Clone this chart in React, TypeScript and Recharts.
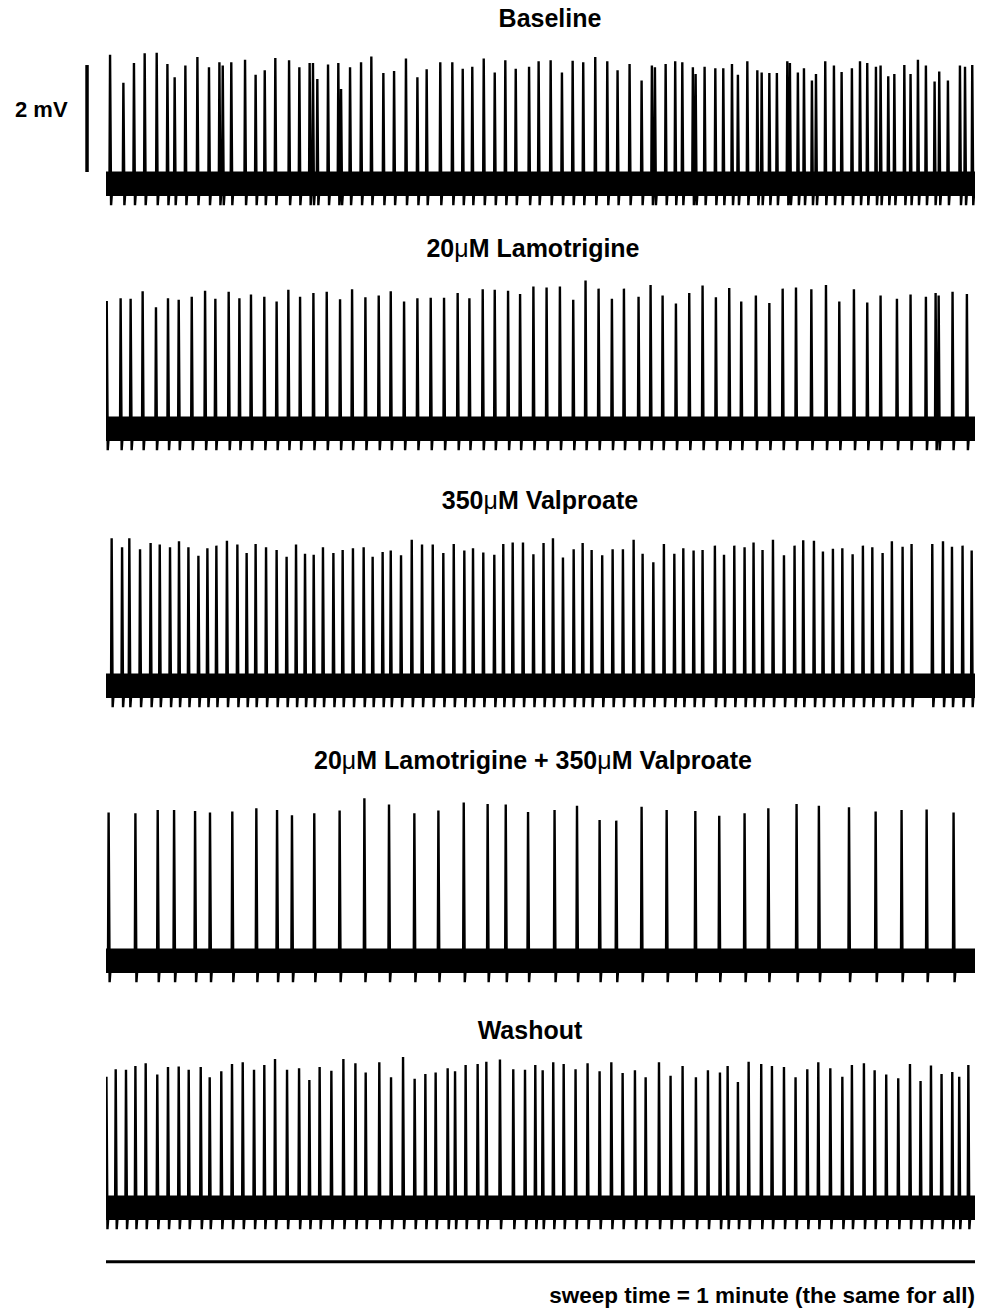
import React from 'react'
import { LineChart, Line, XAxis, YAxis, ReferenceArea, ReferenceLine } from 'recharts'

// spike trains: [time (s), peak amplitude (mV above resting baseline)]
const baselineSpikes: [number, number][] = [
  [0.28, 2.41], [1.2, 1.89], [1.93, 2.26], [2.67, 2.44], [3.5, 2.45], [4.24, 2.24], [4.74, 1.99], [5.48, 2.21],
  [6.31, 2.37], [7.11, 2.18], [7.83, 2.27], [8.06, 2.21], [8.65, 2.27], [9.6, 2.32], [10.33, 2.04], [10.96, 2.12],
  [11.69, 2.35], [12.64, 2.31], [13.35, 2.18], [14.06, 2.26], [14.29, 2.26], [14.59, 1.96], [15.33, 2.23],
  [16.04, 2.26], [16.23, 1.77], [16.85, 2.18], [17.61, 2.27], [18.32, 2.38], [19.15, 2.07], [19.89, 2.11],
  [20.71, 2.34], [21.5, 1.99], [22.14, 2.14], [23.08, 2.27], [23.91, 2.27], [24.63, 2.15], [25.29, 2.19],
  [26.08, 2.34], [26.84, 2.08], [27.57, 2.31], [28.29, 2.15], [29.21, 2.19], [29.87, 2.29], [30.7, 2.31],
  [31.48, 2.08], [32.22, 2.3], [32.95, 2.27], [33.78, 2.37], [34.61, 2.29], [35.32, 2.12], [36.15, 2.24],
  [36.98, 1.93], [37.69, 2.21], [37.9, 2.18], [38.64, 2.24], [39.3, 2.29], [39.79, 2.27], [40.52, 2.18],
  [40.71, 2.05], [41.33, 2.19], [42.07, 2.16], [42.62, 2.16], [43.22, 2.24], [43.63, 2.04], [44.28, 2.29],
  [44.97, 2.12], [45.27, 2.08], [45.8, 2.07], [46.32, 2.07], [47.04, 2.29], [47.22, 2.26], [47.77, 2.08],
  [48.19, 2.16], [48.74, 1.93], [49.02, 2.05], [49.66, 2.29], [50.26, 2.21], [50.79, 2.09], [51.5, 2.16],
  [52.06, 2.29], [52.56, 2.26], [53.16, 2.19], [53.48, 2.21], [54.01, 2.01], [54.43, 2.05], [55.12, 2.22],
  [55.55, 2.05], [56.06, 2.32], [56.61, 2.21], [57.21, 1.91], [57.53, 2.1], [58.13, 1.93], [58.96, 2.21],
  [59.31, 2.19], [59.81, 2.22],
]

const lamotrigineSpikes: [number, number][] = [
  [0.05, 2.39], [1.01, 2.44], [1.7, 2.43], [2.53, 2.57], [3.45, 2.27], [4.28, 2.44], [5.02, 2.41], [5.92, 2.47],
  [6.84, 2.58], [7.55, 2.43], [8.47, 2.56], [9.21, 2.44], [10.01, 2.51], [10.93, 2.47], [11.78, 2.38],
  [12.59, 2.6], [13.4, 2.47], [14.32, 2.54], [15.24, 2.56], [16.16, 2.42], [16.99, 2.61], [17.91, 2.46],
  [18.83, 2.49], [19.66, 2.57], [20.58, 2.38], [21.5, 2.44], [22.42, 2.45], [23.34, 2.45], [24.28, 2.54],
  [25.09, 2.44], [26.01, 2.61], [26.84, 2.6], [27.76, 2.58], [28.59, 2.52], [29.51, 2.66], [30.42, 2.64],
  [31.34, 2.66], [32.26, 2.41], [33.11, 2.77], [34.01, 2.62], [34.93, 2.43], [35.76, 2.62], [36.77, 2.47],
  [37.6, 2.69], [38.43, 2.49], [39.35, 2.34], [40.27, 2.54], [41.19, 2.68], [42.11, 2.46], [43.03, 2.63],
  [43.86, 2.38], [44.87, 2.49], [45.8, 2.35], [46.72, 2.62], [47.64, 2.64], [48.7, 2.61], [49.71, 2.69],
  [50.63, 2.38], [51.64, 2.61], [52.56, 2.36], [53.48, 2.49], [54.61, 2.43], [55.55, 2.51], [56.61, 2.47],
  [57.28, 2.54], [57.49, 2.49], [58.45, 2.56], [59.44, 2.52],
]

const valproateSpikes: [number, number][] = [
  [0.39, 2.76], [1.11, 2.59], [1.61, 2.76], [2.35, 2.55], [3.08, 2.67], [3.71, 2.64], [4.42, 2.59], [5.04, 2.7],
  [5.69, 2.59], [6.38, 2.43], [7.0, 2.57], [7.62, 2.62], [8.35, 2.71], [9.07, 2.64], [9.71, 2.48], [10.33, 2.65],
  [11.05, 2.59], [11.78, 2.54], [12.47, 2.41], [13.12, 2.64], [13.74, 2.47], [14.34, 2.45], [14.98, 2.59],
  [15.7, 2.48], [16.34, 2.54], [17.05, 2.57], [17.79, 2.59], [18.41, 2.41], [19.1, 2.5], [19.66, 2.53],
  [20.37, 2.44], [21.11, 2.73], [21.82, 2.64], [22.56, 2.64], [23.29, 2.48], [24.01, 2.65], [24.74, 2.53],
  [25.34, 2.57], [26.05, 2.49], [26.81, 2.45], [27.43, 2.65], [28.08, 2.68], [28.79, 2.68], [29.51, 2.46],
  [30.21, 2.67], [30.86, 2.76], [31.55, 2.4], [32.29, 2.55], [32.91, 2.67], [33.53, 2.54], [34.26, 2.44],
  [34.98, 2.55], [35.69, 2.55], [36.43, 2.73], [37.05, 2.47], [37.79, 2.31], [38.52, 2.65], [39.24, 2.47],
  [39.86, 2.57], [40.57, 2.53], [41.19, 2.54], [42.04, 2.62], [42.67, 2.45], [43.38, 2.62], [44.09, 2.59],
  [44.71, 2.68], [45.33, 2.54], [46.05, 2.73], [46.81, 2.44], [47.54, 2.62], [48.14, 2.72], [48.88, 2.71],
  [49.5, 2.51], [50.19, 2.56], [50.84, 2.57], [51.55, 2.46], [52.26, 2.62], [52.91, 2.59], [53.62, 2.48],
  [54.26, 2.7], [55.0, 2.6], [55.62, 2.65], [57.05, 2.65], [57.79, 2.7], [58.41, 2.6], [59.14, 2.62],
  [59.77, 2.53],
]

const comboSpikes: [number, number][] = [
  [0.18, 2.77], [2.03, 2.76], [3.57, 2.82], [4.7, 2.82], [6.15, 2.8], [7.18, 2.77], [8.72, 2.79], [10.38, 2.85],
  [11.81, 2.82], [12.84, 2.72], [14.38, 2.76], [16.13, 2.81], [17.84, 3.04], [19.54, 2.92], [21.29, 2.76],
  [22.95, 2.81], [24.7, 2.96], [26.35, 2.93], [27.6, 2.92], [29.14, 2.78], [30.97, 2.82], [32.52, 2.9],
  [34.08, 2.63], [35.23, 2.62], [36.98, 2.88], [38.71, 2.82], [40.69, 2.8], [42.34, 2.71], [44.09, 2.76],
  [45.73, 2.85], [47.68, 2.93], [49.22, 2.9], [51.3, 2.87], [53.14, 2.79], [54.93, 2.82], [56.66, 2.83],
  [58.52, 2.77],
]

const washoutSpikes: [number, number][] = [
  [0.03, 2.45], [0.67, 2.59], [1.38, 2.58], [2.03, 2.65], [2.74, 2.7], [3.54, 2.49], [4.28, 2.63], [5.02, 2.64],
  [5.71, 2.58], [6.54, 2.63], [7.16, 2.44], [7.96, 2.55], [8.7, 2.69], [9.44, 2.72], [10.22, 2.58], [10.93, 2.67],
  [11.67, 2.78], [12.5, 2.58], [13.33, 2.61], [14.04, 2.39], [14.75, 2.63], [15.56, 2.56], [16.39, 2.78],
  [17.22, 2.7], [17.93, 2.53], [18.87, 2.72], [19.68, 2.44], [20.51, 2.82], [21.31, 2.41], [22.05, 2.5],
  [22.76, 2.53], [23.59, 2.61], [24.1, 2.55], [24.83, 2.67], [25.66, 2.69], [26.26, 2.73], [27.2, 2.77],
  [28.12, 2.59], [28.93, 2.58], [29.64, 2.67], [30.15, 2.57], [30.88, 2.72], [31.6, 2.69], [32.42, 2.59],
  [33.25, 2.7], [34.08, 2.55], [34.89, 2.72], [35.67, 2.52], [36.52, 2.57], [37.26, 2.44], [38.18, 2.72],
  [38.98, 2.47], [39.81, 2.65], [40.73, 2.44], [41.56, 2.57], [42.39, 2.53], [42.92, 2.65], [43.63, 2.35],
  [44.37, 2.73], [45.24, 2.69], [45.98, 2.65], [46.81, 2.63], [47.61, 2.44], [48.42, 2.59], [49.18, 2.72],
  [50.01, 2.61], [50.84, 2.45], [51.5, 2.67], [52.33, 2.7], [53.07, 2.57], [53.87, 2.49], [54.7, 2.42],
  [55.51, 2.69], [56.24, 2.37], [56.96, 2.66], [57.69, 2.5], [58.43, 2.54], [58.91, 2.45], [59.54, 2.67],
]

// panel headings, baseline position on the page (px) and heading centre x
const TRACES = [
  { title: ['Baseline'], spikes: baselineSpikes, baseY: 184, titleY: 18, titleX: 550 },
  { title: ['20', 'μ', 'M Lamotrigine'], spikes: lamotrigineSpikes, baseY: 429, titleY: 248, titleX: 533 },
  { title: ['350', 'μ', 'M Valproate'], spikes: valproateSpikes, baseY: 686, titleY: 500, titleX: 540 },
  { title: ['20', 'μ', 'M Lamotrigine + 350', 'μ', 'M Valproate'], spikes: comboSpikes, baseY: 961, titleY: 760, titleX: 533 },
  { title: ['Washout'], spikes: washoutSpikes, baseY: 1208, titleY: 1030, titleX: 530 },
]

const SWEEP_S = 60
const NOISE_MV = 0.23 // half-width of the baseline noise band
const UNDERSHOOT_MV = 0.4

const FONT = "'Liberation Sans', Arial, Helvetica, sans-serif"
const CHART_W = 984
const CHART_H = 240
const Y_MIN = -1.2
const Y_MAX = 3.286 // 240 px / 4.486 mV ≈ 53.5 px per mV
const ZERO_OFFSET = (Y_MAX / (Y_MAX - Y_MIN)) * CHART_H

function buildTrace(spikes: [number, number][]) {
  const rows: { t: number; v: number }[] = [{ t: 0, v: 0 }]
  spikes.forEach(([t, a]) => {
    rows.push({ t: t - 0.04, v: 0 }, { t, v: a }, { t: t + 0.07, v: -UNDERSHOOT_MV }, { t: t + 0.17, v: 0 })
  })
  rows.push({ t: SWEEP_S, v: 0 })
  return rows
}

function Title({ parts, x, y }: { parts: string[]; x: number; y: number }) {
  return (
    <div
      style={{
        position: 'absolute',
        left: x - 300,
        top: y - 12.5,
        width: 600,
        textAlign: 'center',
        fontFamily: FONT,
        fontWeight: 700,
        fontSize: 25,
        lineHeight: '25px',
      }}
    >
      {parts.map((p, i) =>
        p === 'μ' ? (
          <span key={i} style={{ fontWeight: 400 }}>
            {p}
          </span>
        ) : (
          <span key={i}>{p}</span>
        )
      )}
    </div>
  )
}

export default function App() {
  return (
    <div
      style={{
        position: 'absolute',
        left: 0,
        top: 0,
        width: 984,
        height: 1312,
        background: '#fff',
        overflow: 'hidden',
      }}
    >
      {TRACES.map((tr, idx) => (
        <React.Fragment key={idx}>
          <Title parts={tr.title} x={tr.titleX} y={tr.titleY} />
          <div style={{ position: 'absolute', left: 0, top: tr.baseY - ZERO_OFFSET }}>
            <LineChart
              width={CHART_W}
              height={CHART_H}
              data={buildTrace(tr.spikes)}
              margin={{ top: 0, right: 9, bottom: 0, left: 106 }}
            >
              <XAxis type="number" dataKey="t" domain={[0, SWEEP_S]} hide allowDataOverflow />
              <YAxis type="number" domain={[Y_MIN, Y_MAX]} hide allowDataOverflow />
              <ReferenceArea
                x1={0}
                x2={SWEEP_S}
                y1={-NOISE_MV}
                y2={NOISE_MV}
                fill="#000"
                fillOpacity={1}
                stroke="none"
              />
              <Line
                type="linear"
                dataKey="v"
                stroke="#000"
                strokeWidth={2.4}
                dot={false}
                isAnimationActive={false}
              />
              {idx === 0 && (
                // 2 mV calibration bar left of the first trace
                <ReferenceLine
                  segment={[
                    { x: -1.31, y: 0.22 },
                    { x: -1.31, y: 2.22 },
                  ]}
                  stroke="#000"
                  strokeWidth={3.5}
                  ifOverflow="visible"
                />
              )}
              {idx === TRACES.length - 1 && (
                // time bar under the last trace spans the whole sweep
                <ReferenceLine y={-1.01} stroke="#000" strokeWidth={3} />
              )}
            </LineChart>
          </div>
        </React.Fragment>
      ))}
      <div
        style={{
          position: 'absolute',
          left: 15,
          top: 98,
          fontFamily: FONT,
          fontWeight: 700,
          fontSize: 22,
          lineHeight: '24px',
        }}
      >
        2 mV
      </div>
      <div
        style={{
          position: 'absolute',
          right: 9,
          top: 1285,
          fontFamily: FONT,
          fontWeight: 700,
          fontSize: 22.5,
          lineHeight: '22px',
          whiteSpace: 'nowrap',
        }}
      >
        sweep time = 1 minute (the same for all)
      </div>
    </div>
  )
}
